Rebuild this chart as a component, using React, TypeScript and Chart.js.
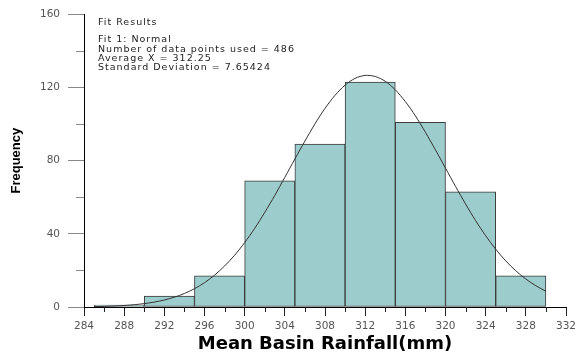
import React, { useEffect, useRef } from "react";
import { Chart, registerables } from "chart.js";

Chart.register(...registerables);

// Histogram bins (5 mm wide) and counts
const binCenters = [287.5, 292.5, 297.5, 302.5, 307.5, 312.5, 317.5, 322.5, 327.5];
const frequencies = [1, 6, 17, 69, 89, 123, 101, 63, 17];

// Fitted normal curve
const curveX = [
  285, 286, 287, 288, 289, 290, 291, 292, 293, 294, 295, 296, 297, 298, 299, 300,
  301, 302, 303, 304, 305, 306, 307, 308, 309, 310, 311, 312, 313, 314, 315, 316,
  317, 318, 319, 320, 321, 322, 323, 324, 325, 326, 327, 328, 329, 330,
];
const curveY = [
  0.22, 0.35, 0.55, 0.84, 1.26, 1.85, 2.69, 3.83, 5.36, 7.38, 9.99, 13.3, 17.4, 22.4, 28.3, 35.2,
  43.0, 51.7, 61.0, 70.9, 80.9, 90.7, 100.1, 108.6, 115.7, 121.3, 125.0, 126.6, 126.0, 123.4, 118.7, 112.3,
  104.5, 95.5, 85.9, 75.9, 65.9, 56.3, 47.2, 39.0, 31.6, 25.2, 19.8, 15.3, 11.6, 8.6,
];

// Axis ranges / tick steps
const xMin = 284;
const xMax = 332;
const xStep = 4;
const yMin = 0;
const yMax = 160;
const yStep = 40;

const xTitle = "Mean Basin Rainfall(mm)";
const yTitle = "Frequency";

const fitHeader = "Fit Results";
const fitLines = [
  "Fit 1: Normal",
  "Number of data points used = 486",
  "Average X = 312.25",
  "Standard Deviation = 7.65424",
];

const minorTicksPlugin = {
  id: "minorTicks",
  afterDraw(chart: any) {
    const { ctx, scales } = chart;
    const x = scales.x;
    const y = scales.y;
    ctx.save();
    ctx.lineWidth = 1;
    ctx.strokeStyle = "#222";
    ctx.beginPath();
    for (let v = xMin + xStep / 2; v < xMax; v += xStep) {
      const px = Math.round(x.getPixelForValue(v)) + 0.5;
      ctx.moveTo(px, y.bottom);
      ctx.lineTo(px, y.bottom + 5);
    }
    ctx.stroke();
    ctx.strokeStyle = "#888";
    ctx.beginPath();
    for (let v = yMin + yStep / 2; v < yMax; v += yStep) {
      const py = Math.round(y.getPixelForValue(v)) + 0.5;
      ctx.moveTo(x.left - 8, py);
      ctx.lineTo(x.left, py);
    }
    ctx.stroke();
    ctx.restore();
  },
};

const fitTextPlugin = {
  id: "fitText",
  afterDraw(chart: any) {
    const { ctx, chartArea } = chart;
    ctx.save();
    ctx.fillStyle = "#222";
    ctx.font = '9.5px "DejaVu Sans"';
    ctx.textBaseline = "middle";
    ctx.textAlign = "left";
    try {
      (ctx as any).letterSpacing = "1px";
    } catch (e) {}
    const x0 = chartArea.left + 14;
    ctx.fillText(fitHeader, x0, chartArea.top + 8.5);
    fitLines.forEach((t, i) => {
      ctx.fillText(t, x0, chartArea.top + 25.5 + i * 9.4);
    });
    ctx.restore();
  },
};

export default function App() {
  const canvasRef = useRef<HTMLCanvasElement | null>(null);

  useEffect(() => {
    if (!canvasRef.current) return;
    const chart = new Chart(canvasRef.current, {
      type: "bar",
      data: {
        datasets: [
          {
            type: "line",
            label: "Normal fit",
            data: curveX.map((v, i) => ({ x: v, y: curveY[i] })),
            borderColor: "#333",
            borderWidth: 1,
            pointRadius: 0,
            tension: 0.3,
            fill: false,
            order: 0,
          } as any,
          {
            type: "bar",
            label: "Frequency",
            data: binCenters.map((v, i) => ({ x: v, y: frequencies[i] })),
            backgroundColor: "#9CCCCC",
            borderColor: "#3a3a3a",
            borderWidth: 1,
            borderSkipped: false,
            barThickness: "flex",
            barPercentage: 1,
            categoryPercentage: 1,
            order: 1,
          } as any,
        ],
      },
      options: {
        animation: false,
        responsive: true,
        maintainAspectRatio: false,
        layout: { padding: { top: 12, right: 16, left: 0, bottom: 0 } },
        plugins: {
          legend: { display: false },
          tooltip: { enabled: false },
        },
        scales: {
          x: {
            type: "linear",
            min: xMin,
            max: xMax,
            offset: false,
            ticks: {
              stepSize: xStep,
              autoSkip: false,
              maxRotation: 0,
              color: "#555",
              font: { family: "DejaVu Sans", size: 10.5 },
              padding: 4,
            },
            grid: {
              offset: false,
              drawOnChartArea: false,
              drawTicks: true,
              tickLength: 9,
              tickColor: "#222",
            },
            border: { display: true, color: "#000", width: 1 },
            title: {
              display: true,
              text: xTitle,
              color: "#000",
              font: { family: "DejaVu Sans", size: 18, weight: "bold" },
              padding: { top: 0, bottom: -2 },
            },
            afterFit: (s: any) => {
              s.height = 46;
            },
          } as any,
          y: {
            type: "linear",
            min: yMin,
            max: yMax,
            ticks: {
              stepSize: yStep,
              color: "#555",
              font: { family: "DejaVu Sans", size: 10.5 },
              padding: 8,
            },
            grid: {
              drawOnChartArea: false,
              drawTicks: true,
              tickLength: 16,
              tickColor: "#888",
            },
            border: { display: true, color: "#000", width: 1 },
            title: {
              display: true,
              text: yTitle,
              color: "#000",
              font: { family: "Liberation Sans", size: 13, weight: "bold" },
              padding: { top: 9, bottom: 0 },
            },
            afterFit: (s: any) => {
              s.width = 84;
            },
          } as any,
        },
      },
      plugins: [minorTicksPlugin, fitTextPlugin],
    });
    return () => chart.destroy();
  }, []);

  return (
    <div style={{ position: "absolute", left: 0, top: 0, width: 582, height: 353, background: "#fff" }}>
      <canvas ref={canvasRef} />
    </div>
  );
}
